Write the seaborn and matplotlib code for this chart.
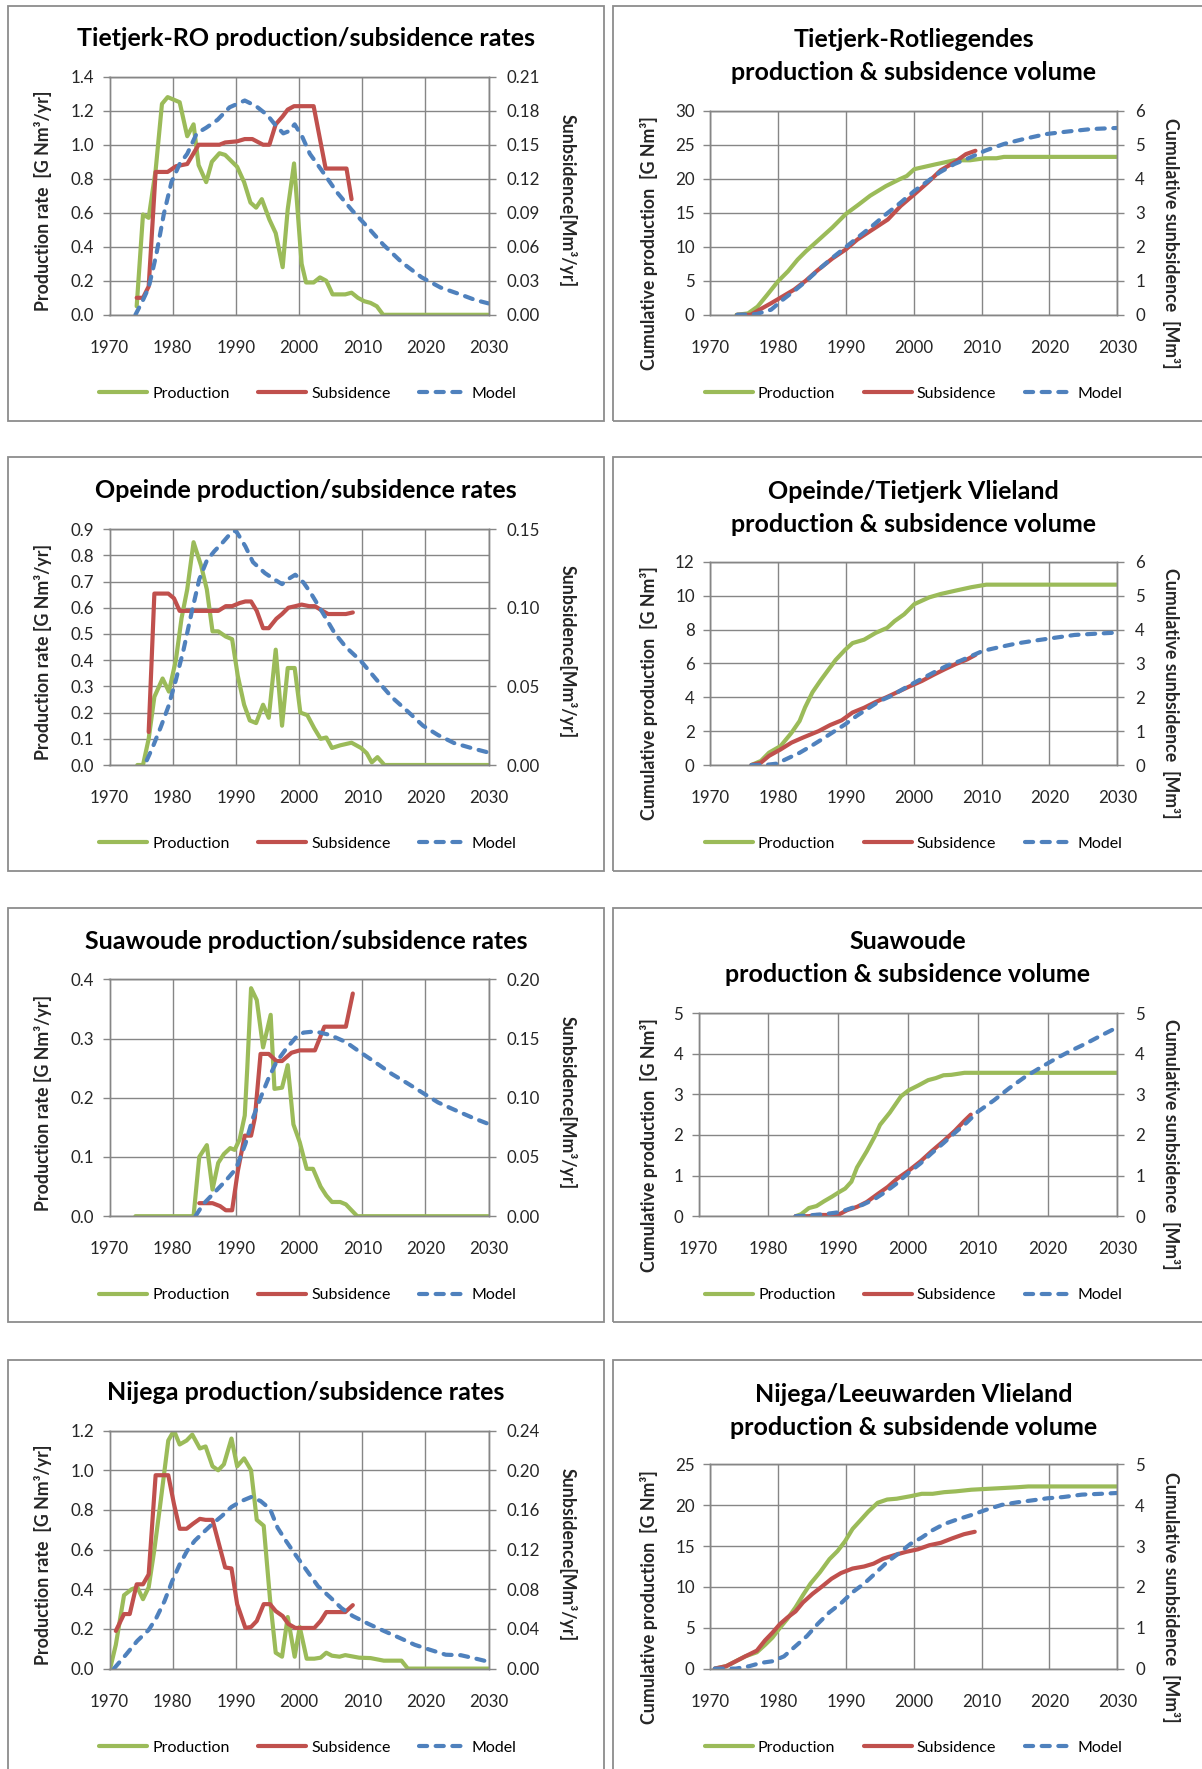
import matplotlib
matplotlib.use("Agg")
import matplotlib.pyplot as plt
import seaborn as sns
from matplotlib.lines import Line2D
from matplotlib.patches import Rectangle
from matplotlib.ticker import FormatStrFormatter

# ---------------- data ----------------
x_ticks = [1970, 1980, 1990, 2000, 2010, 2020, 2030]
legend_labels = ["Production", "Subsidence", "Model"]

# Panel 1: Tietjerk-RO rates
p1_prod_yr = [1974.3, 1975.3, 1976.2, 1977.3, 1978.3, 1979.2, 1981.1, 1982.3, 1983.3, 1984.1, 1985.3, 1986.2, 1987.4,
              1988.3, 1990.2, 1991.3, 1992.3, 1993.2, 1994.1, 1995.3, 1996.3, 1997.4, 1998.2, 1999.2, 2000.4, 2001.1,
              2002.3, 2003.3, 2004.3, 2005.3, 2006.3, 2007.3, 2008.3, 2009.3, 2010.3, 2011.3, 2012.3, 2013.3, 2030.0]
p1_prod = [0.05, 0.59, 0.57, 0.85, 1.24, 1.28, 1.25, 1.05, 1.12, 0.88, 0.78, 0.90, 0.95, 0.94, 0.87, 0.78, 0.66, 0.63,
           0.68, 0.56, 0.48, 0.28, 0.62, 0.89, 0.30, 0.19, 0.19, 0.22, 0.20, 0.12, 0.12, 0.12, 0.13, 0.10, 0.08, 0.07,
           0.05, 0.0, 0.0]
p1_sub_yr = [1974.3, 1975.3, 1976.2, 1977.3, 1979.2, 1980.5, 1982.3, 1984.1, 1987.4, 1988.3, 1990.2, 1991.4, 1992.6,
             1994.3, 1995.3, 1996.3, 1997.4, 1998.2, 1999.2, 2000.2, 2002.3, 2004.2, 2005.4, 2007.5, 2008.3]
p1_sub = [0.015, 0.015, 0.025, 0.126, 0.126, 0.131, 0.133, 0.150, 0.150, 0.152, 0.153, 0.155, 0.155, 0.150, 0.150,
          0.168, 0.175, 0.181, 0.184, 0.184, 0.184, 0.129, 0.129, 0.129, 0.102]
p1_mod_yr = [1974.1, 1975.3, 1976.2, 1977.4, 1978.6, 1979.8, 1981.1, 1982.3, 1983.8, 1985.3, 1987.1, 1989.0, 1991.4,
             1993.2, 1995.0, 1996.3, 1997.5, 1998.4, 1999.3, 2000.5, 2001.7, 2003.5, 2006.0, 2008.4, 2010.9, 2013.3,
             2016.3, 2019.4, 2022.4, 2025.5, 2027.9, 2030.0]
p1_mod = [0.0, 0.013, 0.024, 0.053, 0.089, 0.117, 0.133, 0.142, 0.160, 0.165, 0.172, 0.183, 0.189, 0.184, 0.176,
          0.167, 0.160, 0.162, 0.168, 0.157, 0.142, 0.128, 0.108, 0.092, 0.077, 0.062, 0.046, 0.033, 0.024, 0.018,
          0.013, 0.010]

# Panel 2: Tietjerk-Rotliegendes cumulative
p2_prod_yr = [1973.9, 1975.6, 1977.0, 1978.4, 1980.0, 1981.5, 1982.9, 1984.1, 1986.0, 1988.0, 1990.0, 1991.9, 1993.6,
              1995.9, 1997.9, 1999.0, 2000.1, 2003.2, 2006.0, 2008.3, 2010.5, 2012.2, 2013.3, 2030.0]
p2_prod = [0.0, 0.2, 1.2, 2.9, 4.9, 6.4, 8.1, 9.3, 11.0, 12.8, 14.8, 16.2, 17.5, 18.9, 19.9, 20.4, 21.4, 22.1, 22.7,
           22.7, 23.0, 23.0, 23.2, 23.2]
p2_sub_yr = [1974.0, 1976.0, 1977.3, 1979.0, 1980.7, 1982.4, 1984.1, 1985.8, 1988.0, 1990.0, 1991.7, 1993.6, 1996.2,
             1998.1, 2000.1, 2002.1, 2004.0, 2006.0, 2007.7, 2009.1]
p2_sub = [0.0, 0.0, 0.15, 0.34, 0.54, 0.74, 1.0, 1.3, 1.65, 1.92, 2.21, 2.46, 2.8, 3.2, 3.54, 3.89, 4.25, 4.48, 4.72,
          4.82]
p2_mod_yr = [1974.0, 1976.8, 1979.0, 1980.7, 1982.4, 1984.1, 1986.3, 1988.0, 1990.0, 1992.0, 1993.9, 1995.9, 1998.1,
             2000.1, 2002.1, 2003.8, 2006.0, 2008.3, 2010.5, 2013.3, 2016.1, 2019.5, 2022.9, 2026.3, 2030.0]
p2_mod = [0.0, 0.02, 0.15, 0.44, 0.7, 0.98, 1.38, 1.67, 1.99, 2.31, 2.61, 2.95, 3.3, 3.64, 3.93, 4.18, 4.43, 4.62,
          4.82, 5.02, 5.16, 5.31, 5.39, 5.46, 5.49]

# Panel 3: Opeinde rates
p3_prod_yr = [1974.4, 1975.3, 1976.2, 1977.1, 1978.4, 1979.4, 1980.5, 1981.4, 1982.3, 1983.3, 1984.5, 1985.4, 1986.3,
              1987.2, 1988.4, 1989.4, 1990.3, 1991.3, 1992.2, 1993.2, 1994.3, 1995.2, 1996.3, 1997.3, 1998.2, 1999.3,
              2000.2, 2001.3, 2002.4, 2003.4, 2004.3, 2005.2, 2006.5, 2008.3, 2009.8, 2010.7, 2011.5, 2012.4, 2013.5,
              2030.0]
p3_prod = [0.0, 0.0, 0.1, 0.26, 0.33, 0.28, 0.40, 0.56, 0.67, 0.85, 0.76, 0.67, 0.51, 0.51, 0.49, 0.48, 0.34, 0.23,
           0.17, 0.16, 0.23, 0.18, 0.44, 0.15, 0.37, 0.37, 0.20, 0.19, 0.14, 0.10, 0.105, 0.065, 0.075, 0.085, 0.065,
           0.045, 0.01, 0.03, 0.0, 0.0]
p3_sub_yr = [1976.2, 1977.1, 1979.3, 1980.2, 1981.1, 1983.3, 1986.3, 1987.2, 1988.4, 1989.4, 1990.6, 1991.5, 1992.4,
             1993.3, 1994.3, 1995.2, 1996.4, 1997.3, 1998.3, 1999.4, 2000.4, 2001.6, 2002.5, 2003.7, 2004.6, 2005.6,
             2007.4, 2008.5]
p3_sub = [0.021, 0.109, 0.109, 0.106, 0.098, 0.098, 0.098, 0.098, 0.101, 0.101, 0.103, 0.104, 0.104, 0.098, 0.087,
          0.087, 0.093, 0.096, 0.100, 0.101, 0.102, 0.101, 0.101, 0.098, 0.096, 0.096, 0.096, 0.097]
p3_mod_yr = [1975.9, 1976.8, 1978.1, 1979.3, 1980.5, 1981.7, 1983.0, 1984.2, 1985.4, 1986.6, 1987.8, 1989.1, 1990.0,
             1991.5, 1992.7, 1994.6, 1996.1, 1997.3, 1998.2, 1999.4, 2000.7, 2001.9, 2003.7, 2005.6, 2007.4, 2009.8,
             2012.3, 2014.7, 2017.2, 2019.6, 2022.0, 2024.5, 2027.5, 2029.9]
p3_mod = [0.003, 0.011, 0.024, 0.037, 0.054, 0.073, 0.097, 0.118, 0.130, 0.136, 0.141, 0.147, 0.149, 0.139, 0.129,
          0.122, 0.118, 0.115, 0.118, 0.121, 0.116, 0.109, 0.097, 0.084, 0.075, 0.066, 0.054, 0.043, 0.034, 0.025,
          0.019, 0.014, 0.0105, 0.008]

# Panel 4: Opeinde/Tietjerk Vlieland cumulative
p4_prod_yr = [1976.1, 1977.5, 1978.7, 1980.4, 1982.0, 1983.2, 1984.0, 1985.1, 1986.3, 1987.4, 1988.5, 1989.9, 1991.0,
              1992.7, 1994.4, 1996.1, 1997.2, 1998.6, 2000.1, 2002.3, 2004.0, 2006.2, 2008.5, 2010.7, 2030.0]
p4_prod = [0.0, 0.24, 0.73, 1.12, 1.9, 2.6, 3.4, 4.3, 5.0, 5.6, 6.2, 6.8, 7.2, 7.4, 7.8, 8.1, 8.5, 8.9, 9.5, 9.9,
           10.1, 10.3, 10.5, 10.65, 10.65]
p4_sub_yr = [1976.1, 1977.5, 1978.7, 1980.4, 1982.0, 1983.7, 1986.0, 1987.7, 1989.4, 1991.0, 1992.7, 1994.4, 1996.1,
             1997.8, 1999.5, 2001.2, 2002.9, 2004.6, 2006.2, 2007.9, 2009.1]
p4_sub = [0.0, 0.07, 0.27, 0.46, 0.66, 0.81, 1.0, 1.18, 1.32, 1.55, 1.69, 1.86, 2.01, 2.17, 2.33, 2.48, 2.66, 2.83,
          2.98, 3.12, 3.25]
p4_mod_yr = [1976.1, 1978.1, 1979.8, 1981.5, 1983.2, 1984.9, 1986.5, 1988.2, 1989.9, 1991.6, 1993.3, 1995.0, 1996.7,
             1998.4, 2000.1, 2001.7, 2003.4, 2005.1, 2006.8, 2008.5, 2010.2, 2012.4, 2015.2, 2018.1, 2020.9, 2023.7,
             2027.1, 2030.0]
p4_mod = [0.0, 0.0, 0.04, 0.2, 0.36, 0.56, 0.76, 0.98, 1.2, 1.45, 1.67, 1.89, 2.04, 2.24, 2.43, 2.6, 2.78, 2.95,
          3.07, 3.22, 3.37, 3.47, 3.59, 3.68, 3.76, 3.84, 3.88, 3.91]

# Panel 5: Suawoude rates
p5_prod_yr = [1974.1, 1983.3, 1984.2, 1985.4, 1986.3, 1987.2, 1988.1, 1989.1, 1989.8, 1990.6, 1991.4, 1991.8, 1992.4,
              1993.3, 1994.3, 1995.5, 1996.1, 1997.3, 1998.2, 1999.1, 2000.1, 2001.2, 2002.2, 2003.4, 2004.3, 2005.2,
              2006.5, 2007.4, 2008.3, 2009.2, 2030.0]
p5_prod = [0.0, 0.0, 0.10, 0.12, 0.045, 0.09, 0.105, 0.115, 0.112, 0.13, 0.17, 0.25, 0.385, 0.365, 0.285, 0.34,
           0.215, 0.217, 0.255, 0.155, 0.125, 0.08, 0.08, 0.05, 0.035, 0.024, 0.024, 0.02, 0.01, 0.0, 0.0]
p5_sub_yr = [1984.2, 1986.3, 1987.5, 1988.4, 1989.4, 1990.3, 1991.4, 1992.4, 1993.0, 1993.9, 1995.2, 1996.4, 1997.3,
             1998.8, 2000.1, 2002.5, 2004.0, 2007.4, 2008.5]
p5_sub = [0.011, 0.011, 0.0085, 0.005, 0.005, 0.038, 0.068, 0.068, 0.083, 0.137, 0.137, 0.131, 0.131, 0.138, 0.140,
          0.140, 0.160, 0.160, 0.188]
p5_mod_yr = [1983.6, 1984.8, 1986.6, 1988.4, 1990.0, 1991.5, 1992.7, 1993.9, 1995.2, 1996.4, 1997.9, 1999.5, 2000.7,
             2002.5, 2004.9, 2007.4, 2009.8, 2012.3, 2014.7, 2017.2, 2019.6, 2022.0, 2024.5, 2027.5, 2029.9]
p5_mod = [0.0, 0.01, 0.02, 0.03, 0.04, 0.061, 0.083, 0.1, 0.117, 0.13, 0.141, 0.151, 0.155, 0.156, 0.153, 0.147,
          0.138, 0.129, 0.12, 0.112, 0.104, 0.096, 0.09, 0.083, 0.078]

# Panel 6: Suawoude cumulative
p6_prod_yr = [1983.9, 1984.7, 1985.8, 1986.9, 1988.0, 1989.1, 1990.2, 1991.0, 1991.9, 1992.7, 1994.1, 1995.2, 1996.0,
              1997.4, 1999.0, 2000.1, 2001.5, 2002.9, 2004.0, 2005.1, 2006.2, 2008.1, 2030.0]
p6_prod = [0.0, 0.05, 0.2, 0.25, 0.37, 0.48, 0.6, 0.68, 0.85, 1.2, 1.6, 1.95, 2.25, 2.55, 2.95, 3.1, 3.22, 3.35, 3.4,
           3.47, 3.48, 3.53, 3.53]
p6_sub_yr = [1983.9, 1985.8, 1986.9, 1989.1, 1990.2, 1991.3, 1992.7, 1994.1, 1995.7, 1997.1, 1998.5, 2000.1, 2001.8,
             2003.4, 2005.1, 2006.7, 2008.1, 2009.0]
p6_sub = [0.0, 0.0, 0.03, 0.03, 0.05, 0.15, 0.23, 0.35, 0.55, 0.72, 0.93, 1.12, 1.35, 1.6, 1.85, 2.1, 2.35, 2.5]
p6_mod_yr = [1983.9, 1985.8, 1988.0, 1990.2, 1991.9, 1993.5, 1995.2, 1996.8, 1998.5, 2000.1, 2001.8, 2003.4, 2005.1,
             2006.7, 2008.4, 2010.0, 2012.3, 2014.5, 2016.7, 2018.9, 2021.1, 2023.3, 2025.5, 2027.7, 2030.0]
p6_mod = [0.0, 0.02, 0.05, 0.1, 0.2, 0.28, 0.42, 0.6, 0.82, 1.07, 1.3, 1.55, 1.8, 2.05, 2.3, 2.57, 2.85, 3.15, 3.42,
          3.65, 3.87, 4.07, 4.25, 4.45, 4.65]

# Panel 7: Nijega rates
p7_prod_yr = [1970.1, 1971.0, 1972.3, 1973.5, 1974.4, 1975.3, 1976.2, 1977.1, 1978.0, 1979.3, 1980.2, 1981.1, 1982.2,
              1983.1, 1984.3, 1985.2, 1986.3, 1987.2, 1988.1, 1989.3, 1990.2, 1991.3, 1992.4, 1993.3, 1994.4, 1995.4,
              1996.3, 1997.3, 1998.2, 1999.3, 2000.1, 2001.2, 2002.4, 2003.4, 2004.3, 2005.2, 2006.4, 2007.3, 2009.5,
              2011.3, 2013.4, 2016.2, 2017.2, 2030.0]
p7_prod = [0.0, 0.12, 0.37, 0.40, 0.41, 0.35, 0.41, 0.60, 0.82, 1.15, 1.20, 1.13, 1.15, 1.18, 1.11, 1.12, 1.02, 1.00,
           1.03, 1.16, 1.02, 1.06, 1.00, 0.75, 0.72, 0.35, 0.08, 0.06, 0.26, 0.06, 0.21, 0.05, 0.05, 0.055, 0.08,
           0.065, 0.06, 0.068, 0.055, 0.053, 0.04, 0.04, 0.0, 0.0]
p7_sub_yr = [1971.0, 1972.3, 1973.2, 1974.3, 1975.3, 1976.2, 1977.3, 1979.3, 1980.2, 1981.1, 1982.2, 1983.2, 1984.3,
             1985.2, 1986.3, 1987.3, 1988.3, 1989.3, 1990.2, 1991.5, 1992.4, 1993.3, 1994.4, 1995.4, 1996.3, 1997.4,
             1998.3, 1999.4, 2001.2, 2002.4, 2003.4, 2004.3, 2005.5, 2007.3, 2008.5]
p7_sub = [0.038, 0.055, 0.055, 0.085, 0.085, 0.095, 0.195, 0.195, 0.166, 0.141, 0.141, 0.146, 0.151, 0.150, 0.150,
          0.126, 0.102, 0.101, 0.065, 0.041, 0.042, 0.048, 0.065, 0.065, 0.058, 0.053, 0.045, 0.041, 0.041, 0.041,
          0.048, 0.057, 0.057, 0.057, 0.064]
p7_mod_yr = [1970.7, 1972.6, 1974.4, 1976.2, 1977.4, 1978.7, 1979.9, 1981.1, 1982.3, 1983.5, 1984.8, 1986.3, 1987.8,
             1989.3, 1990.9, 1992.4, 1993.9, 1995.4, 1996.6, 1997.9, 1999.4, 2001.2, 2003.0, 2004.9, 2006.7, 2008.5,
             2011.0, 2013.4, 2015.9, 2018.3, 2020.7, 2023.2, 2025.6, 2028.0, 2029.9]
p7_mod = [0.0, 0.014, 0.028, 0.039, 0.051, 0.068, 0.088, 0.105, 0.119, 0.129, 0.137, 0.146, 0.154, 0.163, 0.169,
          0.173, 0.169, 0.161, 0.142, 0.129, 0.115, 0.099, 0.083, 0.072, 0.061, 0.053, 0.045, 0.038, 0.031, 0.024,
          0.019, 0.014, 0.0135, 0.010, 0.007]

# Panel 8: Nijega/Leeuwarden Vlieland cumulative
p8_prod_yr = [1970.7, 1972.4, 1973.8, 1975.2, 1976.9, 1978.1, 1979.2, 1980.3, 1981.4, 1982.6, 1983.7, 1984.8, 1986.2,
              1987.6, 1988.8, 1989.9, 1991.0, 1992.1, 1993.3, 1994.7, 1996.1, 1997.5, 1999.5, 2001.2, 2002.8, 2004.5,
              2006.2, 2008.5, 2010.7, 2013.0, 2015.2, 2016.9, 2030.0]
p8_prod = [0.0, 0.3, 0.9, 1.5, 2.0, 2.9, 3.8, 5.0, 6.1, 7.5, 9.0, 10.4, 11.8, 13.4, 14.4, 15.6, 17.1, 18.1, 19.2,
           20.3, 20.7, 20.8, 21.1, 21.4, 21.4, 21.6, 21.7, 21.9, 22.0, 22.1, 22.2, 22.3, 22.3]
p8_sub_yr = [1970.7, 1972.4, 1973.8, 1975.2, 1976.9, 1978.1, 1979.2, 1980.3, 1981.4, 1982.6, 1983.7, 1985.1, 1986.5,
             1987.9, 1989.3, 1991.0, 1992.7, 1994.1, 1995.5, 1997.2, 1998.9, 2000.6, 2002.3, 2004.0, 2005.7, 2007.4,
             2009.0]
p8_sub = [0.0, 0.06, 0.18, 0.3, 0.44, 0.69, 0.88, 1.09, 1.25, 1.4, 1.62, 1.83, 2.01, 2.2, 2.34, 2.45, 2.5, 2.57,
          2.69, 2.78, 2.86, 2.92, 3.02, 3.08, 3.19, 3.29, 3.35]
p8_mod_yr = [1970.7, 1972.4, 1973.8, 1975.8, 1977.5, 1979.2, 1980.9, 1982.6, 1984.3, 1985.9, 1987.6, 1989.3, 1991.0,
             1992.7, 1994.4, 1996.1, 1997.8, 1999.5, 2001.2, 2002.8, 2004.5, 2006.2, 2008.5, 2010.7, 2013.0, 2015.2,
             2017.5, 2019.7, 2022.0, 2024.8, 2027.6, 2030.0]
p8_mod = [0.0, 0.0, 0.0, 0.06, 0.14, 0.18, 0.3, 0.55, 0.8, 1.1, 1.38, 1.6, 1.87, 2.08, 2.34, 2.61, 2.82, 3.05, 3.21,
          3.39, 3.54, 3.64, 3.76, 3.89, 4.01, 4.07, 4.12, 4.17, 4.2, 4.26, 4.28, 4.3]

# axis ticks
p1_left_ticks = [0.0, 0.2, 0.4, 0.6, 0.8, 1.0, 1.2, 1.4]
p1_right_ticks = [0.0, 0.03, 0.06, 0.09, 0.12, 0.15, 0.18, 0.21]
p2_left_ticks = [0, 5, 10, 15, 20, 25, 30]
p2_right_ticks = [0, 1, 2, 3, 4, 5, 6]
p3_left_ticks = [0.0, 0.1, 0.2, 0.3, 0.4, 0.5, 0.6, 0.7, 0.8, 0.9]
p3_right_ticks = [0.0, 0.05, 0.10, 0.15]
p4_left_ticks = [0, 2, 4, 6, 8, 10, 12]
p4_right_ticks = [0, 1, 2, 3, 4, 5, 6]
p5_left_ticks = [0.0, 0.1, 0.2, 0.3, 0.4]
p5_right_ticks = [0.0, 0.05, 0.10, 0.15, 0.20]
p6_left_ticks = [0, 1, 2, 3, 4, 5]
p6_right_ticks = [0, 1, 2, 3, 4, 5]
p7_left_ticks = [0.0, 0.2, 0.4, 0.6, 0.8, 1.0, 1.2]
p7_right_ticks = [0.0, 0.04, 0.08, 0.12, 0.16, 0.20, 0.24]
p8_left_ticks = [0, 5, 10, 15, 20, 25]
p8_right_ticks = [0, 1, 2, 3, 4, 5]

# ---------------- style ----------------
sns.set_style("white")
plt.rcParams['font.family'] = ['Lato', 'DejaVu Sans']
plt.rcParams['text.color'] = 'black'

W, H = 1202, 1769
fig = plt.figure(figsize=(W / 100, H / 100), dpi=100)
fig.patch.set_facecolor('white')

GREEN, RED, BLUE, GRID = '#9BBB59', '#C0504D', '#4F81BD', '#868686'
LW = 3.0
DASH = (1.95, 2.05)
TICK_FS = 12.2
TITLE_FS = 18
LABEL_FS = 12.8
LEG_FS = 11.5


def fig_rect(x0, y0, x1, y1):
    return [x0 / W, 1 - y1 / H, (x1 - x0) / W, (y1 - y0) / H]


def panel(border, plot, title, title_y, data, lticks, rticks, lfmt, rfmt,
          llabel, rlabel, llab_x, rlab_x, lab_y, leg_dx):
    bx0, by0, bx1, by1 = border
    fig.add_artist(Rectangle((bx0 / W, 1 - by1 / H), (bx1 - bx0) / W, (by1 - by0) / H,
                             transform=fig.transFigure, fill=False, ec='#8c8c8c', lw=1.3))
    ax = fig.add_axes(fig_rect(*plot))
    ax2 = ax.twinx()
    (px, py), (sx, sy), (mx, my) = data
    sns.lineplot(x=px, y=py, ax=ax, color=GREEN, lw=LW, errorbar=None, legend=False,
                 solid_capstyle='round', solid_joinstyle='round')
    sns.lineplot(x=sx, y=sy, ax=ax2, color=RED, lw=LW, errorbar=None, legend=False,
                 solid_capstyle='round', solid_joinstyle='round')
    sns.lineplot(x=mx, y=my, ax=ax2, color=BLUE, lw=LW, errorbar=None, legend=False,
                 linestyle=(0, DASH), dash_capstyle='round')
    for a in (ax, ax2):
        a.set_xlim(x_ticks[0], x_ticks[-1])
        a.set_xticks(x_ticks)
        for s in a.spines.values():
            s.set_color(GRID)
            s.set_linewidth(1.0)
        a.set_xlabel("")
    ax.set_ylim(lticks[0], lticks[-1])
    ax.set_yticks(lticks)
    ax2.set_ylim(rticks[0], rticks[-1])
    ax2.set_yticks(rticks)
    ax.yaxis.set_major_formatter(FormatStrFormatter(lfmt))
    ax2.yaxis.set_major_formatter(FormatStrFormatter(rfmt))
    ax.grid(True, color=GRID, lw=1.0)
    ax.set_axisbelow(True)
    ax.tick_params(axis='x', direction='out', length=5, width=1, color=GRID,
                   labelsize=TICK_FS, pad=13)
    ax.tick_params(axis='y', direction='out', length=5, width=1, color=GRID,
                   labelsize=TICK_FS, pad=6)
    ax2.tick_params(axis='y', direction='out', length=5, width=1, color=GRID,
                    labelsize=TICK_FS, pad=8)
    ax2.tick_params(axis='x', bottom=False, labelbottom=False)
    ax.set_ylabel(llabel, fontsize=LABEL_FS, fontweight='bold', rotation=90, ha='center', va='center')
    ax2.set_ylabel(rlabel, fontsize=LABEL_FS, fontweight='bold', rotation=270, ha='center', va='center')
    ax.yaxis.set_label_coords(llab_x, lab_y)
    ax2.yaxis.set_label_coords(rlab_x, lab_y)
    # title
    cx = (bx0 + bx1) / 2 if bx1 <= W else (plot[0] + plot[2]) / 2
    fig.text(cx / W, 1 - title_y / H, title, ha='center', va='center', fontsize=TITLE_FS,
             fontweight='bold', linespacing=1.53)
    # legend
    handles = [Line2D([], [], color=GREEN, lw=LW, solid_capstyle='round'),
               Line2D([], [], color=RED, lw=LW, solid_capstyle='round'),
               Line2D([], [], color=BLUE, lw=LW, linestyle=(0, DASH), dash_capstyle='round')]
    leg_cx = (plot[0] + plot[2]) / 2 + leg_dx
    ax2.legend(handles, legend_labels, loc='center', ncol=3, frameon=False,
               bbox_to_anchor=(leg_cx / W, 1 - (plot[3] + 79) / H), bbox_transform=fig.transFigure,
               fontsize=LEG_FS, handlelength=3.0, handletextpad=0.3, columnspacing=1.8)
    return ax, ax2


rate_l1 = "Production rate  [G Nm³/yr]"
rate_l = "Production rate [G Nm³/yr]"
rate_r = "Sunbsidence[Mm³/yr]"
cum_l = "Cumulative production  [G Nm³]"
cum_r = "Cumulative sunbsidence  [Mm³]"

rows = [(6, 421), (457, 871), (908, 1322), (1360, 1790)]
left_plot_y = [(76.7, 314.8), (529.1, 765.0), (979.3, 1216.2), (1430.6, 1668.6)]
right_plot_y = [(110.6, 314.8), (561.8, 765.0), (1013.1, 1216.2), (1464.4, 1668.6)]
left_title_y = [38, 490, 941, 1392]
right_title_y = [56, 508, 958, 1411]
left_ylabels = [rate_l1, rate_l, rate_l, rate_l1]

LX0, LX1 = 109.5, 488.7
RX1 = 1117.3

left_panels = [
    ("Tietjerk-RO production/subsidence rates", ((p1_prod_yr, p1_prod), (p1_sub_yr, p1_sub), (p1_mod_yr, p1_mod)),
     p1_left_ticks, p1_right_ticks),
    ("Opeinde production/subsidence rates", ((p3_prod_yr, p3_prod), (p3_sub_yr, p3_sub), (p3_mod_yr, p3_mod)),
     p3_left_ticks, p3_right_ticks),
    ("Suawoude production/subsidence rates", ((p5_prod_yr, p5_prod), (p5_sub_yr, p5_sub), (p5_mod_yr, p5_mod)),
     p5_left_ticks, p5_right_ticks),
    ("Nijega production/subsidence rates", ((p7_prod_yr, p7_prod), (p7_sub_yr, p7_sub), (p7_mod_yr, p7_mod)),
     p7_left_ticks, p7_right_ticks),
]
right_panels = [
    ("Tietjerk-Rotliegendes\nproduction & subsidence volume",
     ((p2_prod_yr, p2_prod), (p2_sub_yr, p2_sub), (p2_mod_yr, p2_mod)), p2_left_ticks, p2_right_ticks, 710.0),
    ("Opeinde/Tietjerk Vlieland\nproduction & subsidence volume",
     ((p4_prod_yr, p4_prod), (p4_sub_yr, p4_sub), (p4_mod_yr, p4_mod)), p4_left_ticks, p4_right_ticks, 710.0),
    ("Suawoude\nproduction & subsidence volume",
     ((p6_prod_yr, p6_prod), (p6_sub_yr, p6_sub), (p6_mod_yr, p6_mod)), p6_left_ticks, p6_right_ticks, 698.6),
    ("Nijega/Leeuwarden Vlieland\nproduction & subsidende volume",
     ((p8_prod_yr, p8_prod), (p8_sub_yr, p8_sub), (p8_mod_yr, p8_mod)), p8_left_ticks, p8_right_ticks, 710.0),
]

for i in range(4):
    ry0, ry1 = rows[i]
    t, d, lt, rt = left_panels[i]
    y0, y1 = left_plot_y[i]
    panel((8, ry0, 604, ry1), (LX0, y0, LX1, y1), t, left_title_y[i], d, lt, rt, '%.1f', '%.2f',
          left_ylabels[i], rate_r, (43 - LX0) / (LX1 - LX0), (568 - LX0) / (LX1 - LX0), 0.48, 9)

    t, d, lt, rt, rx0 = right_panels[i]
    y0, y1 = right_plot_y[i]
    panel((613, ry0, 1230, ry1), (rx0, y0, RX1, y1), t, right_title_y[i], d, lt, rt, '%d', '%d',
          cum_l, cum_r, (649 - rx0) / (RX1 - rx0), (1171.5 - rx0) / (RX1 - rx0),
          71.5 / (y1 - y0), 0 if rx0 > 700 else 6)

fig.savefig("out.png", dpi=100, facecolor='white')
